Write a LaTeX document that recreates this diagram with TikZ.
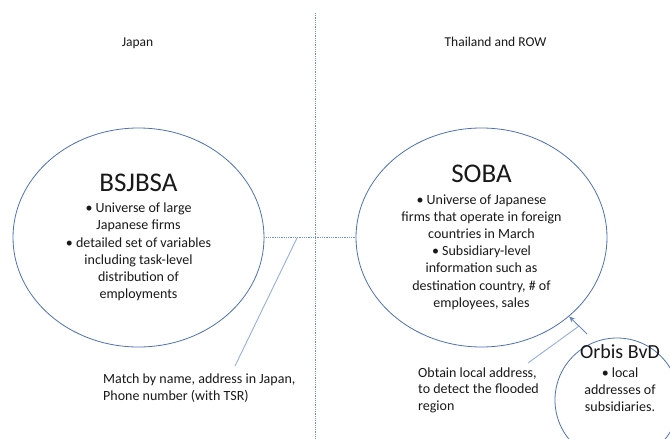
\documentclass[tikz,border=0pt]{standalone}
\usepackage{fontspec}
\setmainfont{Carlito}
\usetikzlibrary{shapes.geometric,arrows.meta,calc}
\definecolor{ebl}{RGB}{79,114,180}
\definecolor{lbl}{RGB}{150,176,222}
\definecolor{abl}{RGB}{100,135,205}
\definecolor{dbl}{RGB}{110,145,220}
\definecolor{txt}{RGB}{25,25,25}
\begin{document}
\begin{tikzpicture}[x=1pt,y=-1pt,
  every node/.style={text=txt},
  bubble/.style={ellipse, draw=ebl, line width=0.8pt, inner sep=0pt,
    minimum width=251pt, minimum height=219pt, align=center,
    font=\fontsize{14pt}{17.2pt}\selectfont},
  orbisring/.style={circle, draw=ebl, line width=0.8pt, minimum size=124pt, inner sep=0pt},
  bodytext/.style={align=center, inner sep=0pt, font=\fontsize{14pt}{17pt}\selectfont},
  notetext/.style={align=left, inner sep=0pt, font=\fontsize{14pt}{16.5pt}\selectfont},
  headtext/.style={inner sep=0pt, font=\fontsize{13.5pt}{16pt}\selectfont},
  divider/.style={draw=dbl, line width=0.7pt, dash pattern=on 0.9pt off 0.9pt},
  leader/.style={draw=lbl, line width=0.9pt},
  linkarrow/.style={draw=abl, line width=0.9pt, -{Stealth[length=6pt,width=5pt]}}]
\useasboundingbox (0,0) rectangle (670,439);
\fill[white] (0,0) rectangle (670,439);

% headers
\node[headtext, anchor=base] (japan) at (137.5,46) {Japan};
\node[headtext, anchor=base] (thai) at (495.5,46) {Thailand and ROW};

% divider
\coordinate (divtop) at (315,13);
\coordinate (divbot) at (315,439);
\draw[divider] (divtop) -- (divbot);

% ellipses
\node[bubble] (bsjbsa) at (138.5,237.5)
  {{\fontsize{27pt}{30pt}\selectfont BSJBSA}\\[4pt]
   • Universe of large\\
   Japanese firms\\
   • detailed set of variables\\
   including task-level\\
   distribution of\\
   employments};
\node[bubble] (soba) at (481.5,237.5)
  {{\fontsize{27pt}{30pt}\selectfont SOBA}\\[4pt]
   • Universe of Japanese\\
   firms that operate in foreign\\
   countries in March\\
   • Subsidiary-level\\
   information such as\\
   destination country, \# of\\
   employees, sales};

% Orbis circle
\node[orbisring] (orbis) at (617,400) {};
\node[bodytext] (orbistext) at (620,378)
  {{\fontsize{20pt}{22pt}\selectfont Orbis BvD}\\[2pt]
   • local\\
   addresses of\\
   subsidiaries.};

% connection between the two data sets
\draw[divider] (bsjbsa.east) -- (soba.west) coordinate[pos=0.36] (matchjoin);
\node[notetext, anchor=base west] (match) at (103,400)
  {Match by name, address in Japan,\\Phone number (with TSR)};
\coordinate (matchend) at (235,366);
\draw[leader] (matchjoin) -- (matchend);

% Orbis -> SOBA
\coordinate (arrowtail) at (587,334);
\draw[linkarrow] (arrowtail) -- (soba.-42) coordinate[pos=0.45] (obtainjoin);
\node[notetext, anchor=base west] (obtain) at (418,410)
  {Obtain local address,\\to detect the flooded\\region};
\coordinate (obtainend) at (528,363);
\draw[leader] (obtainend) -- (obtainjoin);
\end{tikzpicture}
\end{document}
